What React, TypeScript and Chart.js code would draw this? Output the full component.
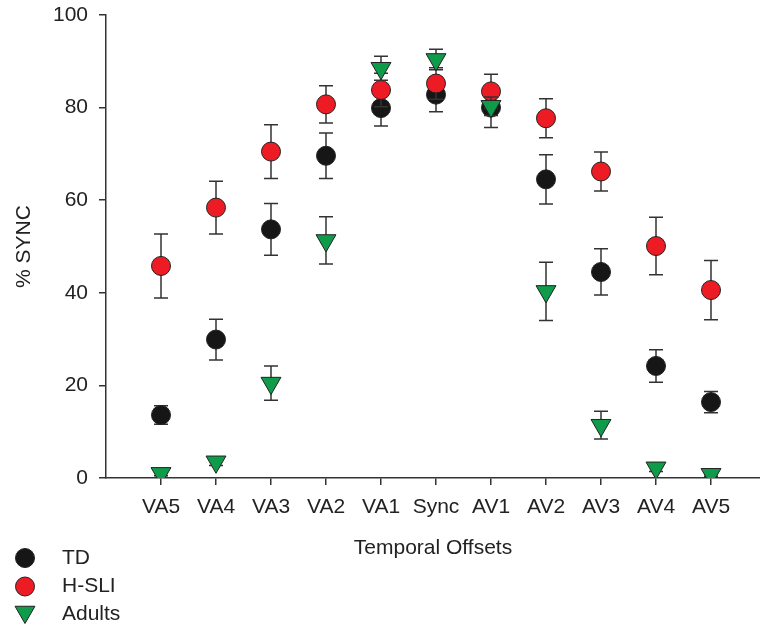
import React, { useEffect, useRef } from "react";
import { Chart, registerables } from "chart.js";

Chart.register(...registerables);

const categories = ["VA5", "VA4", "VA3", "VA2", "VA1", "Sync", "AV1", "AV2", "AV3", "AV4", "AV5"];
const tdValues = [13.6, 29.9, 53.7, 69.6, 79.9, 82.8, 80.0, 64.5, 44.5, 24.2, 16.4];
const tdErrors = [2.0, 4.4, 5.6, 4.9, 3.9, 3.7, 4.3, 5.3, 5.0, 3.5, 2.3];
const hsliValues = [45.8, 58.4, 70.5, 80.7, 83.8, 85.2, 83.5, 77.7, 66.2, 50.1, 40.6];
const hsliErrors = [6.9, 5.7, 5.8, 4.0, 3.6, 3.4, 3.7, 4.2, 4.2, 6.2, 6.4];
const adultValues = [1.0, 3.5, 20.5, 51.3, 88.5, 90.4, 80.3, 40.3, 11.4, 2.2, 0.8];
const adultErrors = [0.5, 0.8, 3.7, 5.1, 2.6, 2.2, 2.0, 6.3, 3.0, 0.8, 0.4];
const yTicks = [0, 20, 40, 60, 80, 100];
const seriesNames = ["TD", "H-SLI", "Adults"];

const FONT = "'Liberation Sans', Arial, Helvetica, sans-serif";
const TEXT = "#222222";
const AXIS = "#333333";
const BLACK = "#161616";
const RED = "#ED1C24";
const GREEN = "#0E9C4B";

const errorSets = [tdErrors, hsliErrors, adultErrors];

const errorBarPlugin = {
  id: "errorBars",
  beforeDatasetDraw(chart: any, args: any) {
    const idx = args.index;
    const errs = errorSets[idx];
    if (!errs) return;
    const meta = chart.getDatasetMeta(idx);
    const yScale = chart.scales.y;
    const ds = chart.data.datasets[idx];
    const ctx = chart.ctx;
    ctx.save();
    ctx.strokeStyle = AXIS;
    ctx.lineWidth = 1.5;
    meta.data.forEach((pt: any, i: number) => {
      const v = ds.data[i].y;
      const e = errs[i];
      const x = pt.x;
      const yt = yScale.getPixelForValue(v + e);
      const yb = yScale.getPixelForValue(v - e);
      ctx.beginPath();
      ctx.moveTo(x, yt);
      ctx.lineTo(x, yb);
      ctx.moveTo(x - 7, yt);
      ctx.lineTo(x + 7, yt);
      ctx.moveTo(x - 7, yb);
      ctx.lineTo(x + 7, yb);
      ctx.stroke();
    });
    ctx.restore();
  },
};

const legendPlugin = {
  id: "customLegend",
  afterDraw(chart: any) {
    const ctx = chart.ctx;
    const rows = [
      { name: seriesNames[0], color: BLACK, shape: "circle", y: 558 },
      { name: seriesNames[1], color: RED, shape: "circle", y: 586.5 },
      { name: seriesNames[2], color: GREEN, shape: "triangle", y: 614.5 },
    ];
    ctx.save();
    rows.forEach((r) => {
      ctx.beginPath();
      const cx = 25;
      if (r.shape === "circle") {
        ctx.arc(cx, r.y, 9.5, 0, Math.PI * 2);
      } else {
        const rad = 11.5;
        const cy = r.y - 2.5;
        ctx.moveTo(cx - rad * Math.sin(Math.PI / 3), cy - rad / 2);
        ctx.lineTo(cx + rad * Math.sin(Math.PI / 3), cy - rad / 2);
        ctx.lineTo(cx, cy + rad);
        ctx.closePath();
      }
      ctx.fillStyle = r.color;
      ctx.fill();
      ctx.lineWidth = 1;
      ctx.strokeStyle = "#222";
      ctx.stroke();
      ctx.fillStyle = TEXT;
      ctx.font = `21px ${FONT}`;
      ctx.textAlign = "left";
      ctx.textBaseline = "middle";
      ctx.fillText(r.name, 62, r.y);
    });
    ctx.restore();
  },
};

export default function App() {
  const canvasRef = useRef<HTMLCanvasElement | null>(null);

  useEffect(() => {
    if (!canvasRef.current) return;
    const toPts = (vals: number[]) => vals.map((v, i) => ({ x: i + 1, y: v }));
    const chart = new Chart(canvasRef.current, {
      type: "scatter",
      data: {
        datasets: [
          {
            label: seriesNames[0],
            data: toPts(tdValues),
            backgroundColor: BLACK,
            borderColor: "#222",
            borderWidth: 1,
            pointRadius: 9.5,
            pointHoverRadius: 9.5,
            pointStyle: "circle",
            order: 3,
          },
          {
            label: seriesNames[1],
            data: toPts(hsliValues),
            backgroundColor: RED,
            borderColor: "#222",
            borderWidth: 1,
            pointRadius: 9.5,
            pointHoverRadius: 9.5,
            pointStyle: "circle",
            order: 2,
          },
          {
            label: seriesNames[2],
            data: toPts(adultValues),
            backgroundColor: GREEN,
            borderColor: "#222",
            borderWidth: 1,
            pointRadius: 11.5,
            pointHoverRadius: 11.5,
            pointStyle: "triangle",
            rotation: 180,
            order: 1,
          },
        ],
      },
      options: {
        responsive: false,
        animation: false,
        devicePixelRatio: 1,
        layout: { autoPadding: false, padding: { top: 15, right: 0, bottom: 0, left: 0 } },
        plugins: {
          legend: { display: false },
          tooltip: { enabled: false },
        },
        scales: {
          x: {
            type: "linear",
            min: 0,
            max: 654 / 55,
            afterBuildTicks: (scale: any) => {
              scale.ticks = categories.map((_, i) => ({ value: i + 1 }));
            },
            afterFit: (scale: any) => {
              scale.height = 150;
              scale.paddingLeft = 0;
              scale.paddingRight = 0;
            },
            grid: {
              drawOnChartArea: false,
              drawTicks: true,
              tickLength: 7,
              color: AXIS,
              lineWidth: 1.5,
            },
            border: { display: true, color: AXIS, width: 1.5 },
            ticks: {
              autoSkip: false,
              maxRotation: 0,
              padding: 10,
              color: TEXT,
              font: { family: FONT, size: 21 },
              callback: (v: any) => categories[Math.round(Number(v)) - 1] ?? "",
            },
            title: {
              display: true,
              text: "Temporal Offsets",
              color: TEXT,
              font: { family: FONT, size: 21 },
              padding: { top: 0, bottom: 67 },
            },
          },
          y: {
            type: "linear",
            min: 0,
            max: 100,
            afterBuildTicks: (scale: any) => {
              scale.ticks = yTicks.map((v) => ({ value: v }));
            },
            afterFit: (scale: any) => {
              scale.width = 106;
              scale.paddingTop = 0;
              scale.paddingBottom = 0;
            },
            grid: {
              drawOnChartArea: false,
              drawTicks: true,
              tickLength: 7,
              color: AXIS,
              lineWidth: 1.5,
            },
            border: { display: true, color: AXIS, width: 1.5 },
            ticks: {
              padding: 11,
              color: TEXT,
              font: { family: FONT, size: 21 },
              callback: (v: any) => String(v),
            },
            title: {
              display: true,
              text: "% SYNC",
              color: TEXT,
              font: { family: FONT, size: 21 },
              padding: { top: 12, bottom: 0 },
            },
          },
        },
      },
      plugins: [errorBarPlugin, legendPlugin],
    });
    return () => chart.destroy();
  }, []);

  return (
    <div style={{ position: "absolute", left: 0, top: 0, width: 760, height: 628, background: "#fff" }}>
      <canvas ref={canvasRef} width={760} height={628} style={{ display: "block", width: 760, height: 628 }} />
    </div>
  );
}
